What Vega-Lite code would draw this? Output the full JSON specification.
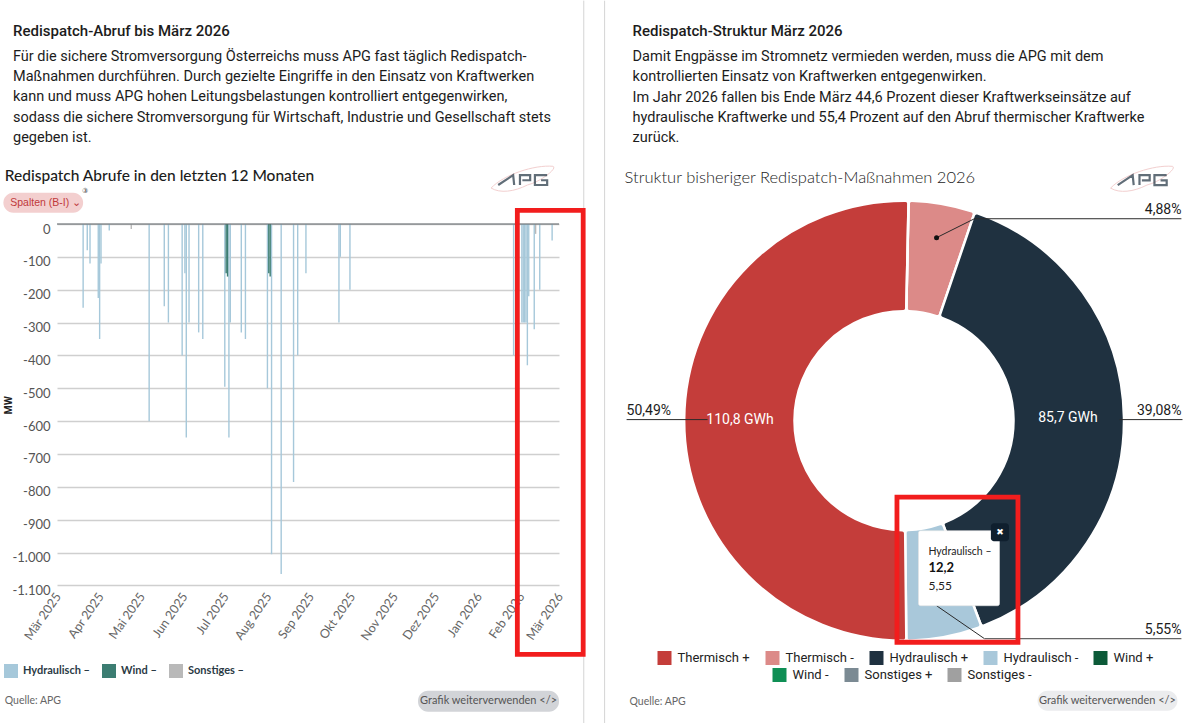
{"$schema":"https://vega.github.io/schema/vega-lite/v6.json","padding":{"left":3,"top":0,"right":0,"bottom":0},"background":"white","spacing":17.5,
"config":{"view":{"stroke":null},"text":{"font":"Roboto","fontSize":14.5,"color":"#1c1c1c","align":"left","baseline":"middle"},"legend":{"symbolType":"square","symbolSize":196,"symbolStrokeWidth":0,"title":null}},
"datasets":{"eins":[{}],
"abrufe":[
{"Tag":"2025-03-20","MW":-255,"Typ":"Hydraulisch –"},{"Tag":"2025-03-23","MW":-80,"Typ":"Hydraulisch –"},{"Tag":"2025-03-25","MW":-120,"Typ":"Hydraulisch –"},{"Tag":"2025-03-31","MW":-225,"Typ":"Hydraulisch –"},{"Tag":"2025-04-01","MW":-350,"Typ":"Hydraulisch –"},{"Tag":"2025-04-02","MW":-120,"Typ":"Hydraulisch –"},{"Tag":"2025-04-08","MW":-20,"Typ":"Hydraulisch –"},{"Tag":"2025-04-24","MW":-15,"Typ":"Sonstiges –"},{"Tag":"2025-05-07","MW":-600,"Typ":"Hydraulisch –"},{"Tag":"2025-05-18","MW":-250,"Typ":"Hydraulisch –"},{"Tag":"2025-05-21","MW":-300,"Typ":"Hydraulisch –"},{"Tag":"2025-05-31","MW":-400,"Typ":"Hydraulisch –"},{"Tag":"2025-06-02","MW":-150,"Typ":"Hydraulisch –"},{"Tag":"2025-06-03","MW":-650,"Typ":"Hydraulisch –"},{"Tag":"2025-06-05","MW":-300,"Typ":"Hydraulisch –"},{"Tag":"2025-06-12","MW":-330,"Typ":"Hydraulisch –"},{"Tag":"2025-06-15","MW":-350,"Typ":"Hydraulisch –"},{"Tag":"2025-07-01","MW":-495,"Typ":"Hydraulisch –"},{"Tag":"2025-07-04","MW":-650,"Typ":"Hydraulisch –"},{"Tag":"2025-07-05","MW":-300,"Typ":"Hydraulisch –"},{"Tag":"2025-07-13","MW":-330,"Typ":"Hydraulisch –"},{"Tag":"2025-07-16","MW":-350,"Typ":"Hydraulisch –"},{"Tag":"2025-08-01","MW":-500,"Typ":"Hydraulisch –"},{"Tag":"2025-08-04","MW":-1005,"Typ":"Hydraulisch –"},{"Tag":"2025-08-11","MW":-1065,"Typ":"Hydraulisch –"},{"Tag":"2025-08-20","MW":-785,"Typ":"Hydraulisch –"},{"Tag":"2025-08-23","MW":-400,"Typ":"Hydraulisch –"},{"Tag":"2025-08-29","MW":-150,"Typ":"Hydraulisch –"},{"Tag":"2025-09-22","MW":-300,"Typ":"Hydraulisch –"},{"Tag":"2025-09-23","MW":-100,"Typ":"Hydraulisch –"},{"Tag":"2025-09-30","MW":-200,"Typ":"Hydraulisch –"},{"Tag":"2026-01-27","MW":-400,"Typ":"Hydraulisch –"},{"Tag":"2026-01-30","MW":-500,"Typ":"Hydraulisch –"},{"Tag":"2026-02-02","MW":-300,"Typ":"Hydraulisch –"},{"Tag":"2026-02-03","MW":-300,"Typ":"Hydraulisch –"},{"Tag":"2026-02-04","MW":-300,"Typ":"Hydraulisch –"},{"Tag":"2026-02-05","MW":-300,"Typ":"Hydraulisch –"},{"Tag":"2026-02-06","MW":-430,"Typ":"Hydraulisch –"},{"Tag":"2026-02-07","MW":-220,"Typ":"Hydraulisch –"},{"Tag":"2026-02-11","MW":-320,"Typ":"Hydraulisch –"},{"Tag":"2026-02-12","MW":-30,"Typ":"Sonstiges –"},{"Tag":"2026-02-15","MW":-200,"Typ":"Hydraulisch –"},{"Tag":"2026-02-24","MW":-50,"Typ":"Hydraulisch –"},
{"Tag":"2025-07-02","MW":-150,"Typ":"Wind –"},{"Tag":"2025-07-03","MW":-160,"Typ":"Wind –"},{"Tag":"2025-08-02","MW":-150,"Typ":"Wind –"},{"Tag":"2025-08-03","MW":-160,"Typ":"Wind –"}],
"struktur":[{"Typ":"Thermisch -","GWh":10.7,"Reihe":1,"Label":""},{"Typ":"Hydraulisch +","GWh":85.7,"Reihe":2,"Label":"85,7 GWh"},{"Typ":"Hydraulisch -","GWh":12.2,"Reihe":3,"Label":""},{"Typ":"Thermisch +","GWh":110.8,"Reihe":4,"Label":"110,8 GWh"},{"Typ":"Wind +","GWh":0,"Reihe":5,"Label":""},{"Typ":"Wind -","GWh":0,"Reihe":6,"Label":""},{"Typ":"Sonstiges +","GWh":0,"Reihe":7,"Label":""},{"Typ":"Sonstiges -","GWh":0,"Reihe":8,"Label":""}]},
"hconcat":[
{"width":502,"height":361.4,"layer":[
{"data":{"name":"abrufe"},"mark":{"type":"bar","width":1.4,"clip":false},"encoding":{
"x":{"field":"Tag","type":"temporal","title":null,"scale":{"domain":[{"year":2025,"month":3,"date":1},{"year":2026,"month":3,"date":1}],"nice":false,"padding":0},"axis":{"grid":false,"domain":false,"ticks":false,"tickCount":{"interval":"month","step":1},"labelAngle":-55,"labelAlign":"right","labelBaseline":"top","labelPadding":5,"labelOffset":-4,"labelFont":"Lato","labelFontSize":12.5,"labelColor":"#666","labelOverlap":false,"labelExpr":"['Jan','Feb','Mär','Apr','Mai','Jun','Jul','Aug','Sep','Okt','Nov','Dez'][month(datum.value)]+' '+year(datum.value)"}},
"y":{"field":"MW","type":"quantitative","stack":null,"title":"MW","scale":{"domain":[-1100,0],"nice":false},"axis":{"values":[0,-100,-200,-300,-400,-500,-600,-700,-800,-900,-1000,-1100],"tickCount":12,"domain":false,"ticks":false,"grid":true,"gridColor":"#cfcfcf","gridWidth":1.3,"labelFont":"Lato","labelFontSize":13,"labelColor":"#555","labelPadding":7,"labelOffset":5,"labelOverlap":false,"labelExpr":"replace(replace(format(datum.value,','),',','.'),'−','-')","labelBound":false,"labelFlush":false,"titleFont":"Roboto","titleFontSize":10.5,"titleFontWeight":"bold","titleColor":"#222","titleX":-44}},
"color":{"field":"Typ","type":"nominal","scale":{"domain":["Hydraulisch –","Wind –","Sonstiges –"],"range":["#a6c8da","#3c7d72","#b9b9b9"]},"legend":{"orient":"none","legendX":-53,"legendY":440,"direction":"horizontal","columns":3,"labelFont":"Lato","labelFontSize":11,"labelFontWeight":"bold","labelColor":"#2b3a45","labelOffset":5,"columnPadding":12}},
"order":{"field":"Typ","sort":"ascending"}}},
{"data":{"name":"eins"},"mark":{"type":"rule","color":"#d4d4d4","strokeWidth":1},"encoding":{"x":{"datum":{"year":2026,"month":3,"date":19},"type":"temporal"},"y":{"datum":680,"type":"quantitative"},"y2":{"datum":-1521}}},
{"data":{"name":"eins"},"mark":{"type":"rule","color":"#5f6468","strokeWidth":1.2},"encoding":{"y":{"datum":0,"type":"quantitative"}}},
{"data":{"name":"eins"},"mark":{"type":"text","fontWeight":500,"fontSize":15,"text":"Redispatch-Abruf bis März 2026"},"encoding":{"x":{"datum":{"year":2025,"month":1,"date":28},"type":"temporal"},"y":{"datum":588.4,"type":"quantitative"}}},
{"data":{"name":"eins"},"mark":{"type":"text","baseline":"top","lineHeight":20.4,"text":["Für die sichere Stromversorgung Österreichs muss APG fast täglich Redispatch-","Maßnahmen durchführen. Durch gezielte Eingriffe in den Einsatz von Kraftwerken","kann und muss APG hohen Leitungsbelastungen kontrolliert entgegenwirken,","sodass die sichere Stromversorgung für Wirtschaft, Industrie und Gesellschaft stets","gegeben ist."]},"encoding":{"x":{"datum":{"year":2025,"month":1,"date":28},"type":"temporal"},"y":{"datum":530.6,"type":"quantitative"}}},
{"data":{"name":"eins"},"mark":{"type":"text","font":"Lato","fontSize":15.5,"fontWeight":500,"text":"Redispatch Abrufe in den letzten 12 Monaten"},"encoding":{"x":{"datum":{"year":2025,"month":1,"date":22},"type":"temporal"},"y":{"datum":147,"type":"quantitative"}}},
{"data":{"name":"eins"},"mark":{"type":"rect","fill":"#f3cfcf","cornerRadius":10},"encoding":{"x":{"datum":{"year":2025,"month":1,"date":21},"type":"temporal"},"x2":{"datum":{"year":2025,"month":3,"date":20}},"y":{"datum":95.3,"type":"quantitative"},"y2":{"datum":34.4}}},
{"data":{"name":"eins"},"mark":{"type":"text","font":"Liberation Sans","fontSize":10.5,"color":"#c0393b","text":"Spalten (B-I) ⌄"},"encoding":{"x":{"datum":{"year":2025,"month":1,"date":26},"type":"temporal"},"y":{"datum":64.8,"type":"quantitative"}}},
{"data":{"name":"eins"},"mark":{"type":"text","fontSize":7,"color":"#333","align":"center","text":"③"},"encoding":{"x":{"datum":{"year":2025,"month":3,"date":21},"type":"temporal"},"y":{"datum":101,"type":"quantitative"}}},
{"data":{"name":"eins"},"mark":{"type":"point","filled":false,"stroke":"#eebcbc","strokeWidth":1,"size":4624,"shape":"M -0.97 0.29 C -0.6 -0.1 0.3 -0.4 0.85 -0.35 C 1 -0.3 0.5 0.1 0.1 0.2 C -0.3 0.4 -0.7 0.45 -0.97 0.29 Z"},"encoding":{"x":{"datum":{"year":2026,"month":2,"date":3,"hours":14},"type":"temporal"},"y":{"datum":139.4,"type":"quantitative"}}},
{"data":{"name":"eins"},"mark":{"type":"point","filled":false,"stroke":"#1f3140","strokeWidth":2.2,"size":4624,"shape":"M -0.76 0.2 L -0.32 -0.09 L -0.29 0.2 M -0.12 0.2 L -0.12 -0.09 L 0.18 -0.09 L 0.18 0.06 L -0.05 0.06 M 0.68 -0.09 L 0.32 -0.09 L 0.32 0.2 L 0.68 0.2 L 0.68 0.06 L 0.5 0.06"},"encoding":{"x":{"datum":{"year":2026,"month":2,"date":3,"hours":14},"type":"temporal"},"y":{"datum":139.4,"type":"quantitative"}}},
{"data":{"name":"eins"},"mark":{"type":"text","font":"Lato","fontSize":10.5,"color":"#666","text":"Quelle: APG"},"encoding":{"x":{"datum":{"year":2025,"month":1,"date":22},"type":"temporal"},"y":{"datum":-1451,"type":"quantitative"}}},
{"data":{"name":"eins"},"mark":{"type":"rect","fill":"#d2d4d8","cornerRadius":10},"encoding":{"x":{"datum":{"year":2025,"month":11,"date":18,"hours":12},"type":"temporal"},"x2":{"datum":{"year":2026,"month":3,"date":1}},"y":{"datum":-1420.7,"type":"quantitative"},"y2":{"datum":-1484.6}}},
{"data":{"name":"eins"},"mark":{"type":"text","font":"Lato","fontSize":11,"color":"#555","align":"center","text":"Grafik weiterverwenden </>"},"encoding":{"x":{"datum":{"year":2026,"month":1,"date":8,"hours":19},"type":"temporal"},"y":{"datum":-1452.7,"type":"quantitative"}}},
{"data":{"name":"eins"},"mark":{"type":"rect","fillOpacity":0,"stroke":"#f21d1d","strokeWidth":4.8},"encoding":{"x":{"datum":{"year":2026,"month":1,"date":29,"hours":17},"type":"temporal"},"x2":{"datum":{"year":2026,"month":3,"date":18,"hours":14}},"y":{"datum":41.4,"type":"quantitative"},"y2":{"datum":-1310}}}
]},
{"width":557,"height":393.4,"resolve":{"scale":{"color":"independent"}},"layer":[
{"data":{"name":"eins"},"mark":{"type":"rule","color":"#d4d4d4","strokeWidth":1},"encoding":{"x":{"datum":-1.361,"type":"quantitative","axis":null,"scale":{"domain":[-1.266,1.266],"nice":false}},"y":{"datum":1.909,"type":"quantitative","axis":null,"scale":{"domain":[-0.8941,0.8941],"nice":false}},"y2":{"datum":-1.377}}},
{"data":{"name":"struktur"},"transform":[{"filter":"datum.Reihe<=5"}],"mark":{"type":"arc","innerRadius":109.5,"outerRadius":220,"stroke":"white","strokeWidth":2.5,"cornerRadius":3},"encoding":{"theta":{"field":"GWh","type":"quantitative","stack":true,"scale":{"domain":[0,219.4],"range":[0.021,6.304]}},"order":{"field":"Reihe"},"color":{"field":"Typ","type":"nominal","scale":{"domain":["Thermisch +","Thermisch -","Hydraulisch +","Hydraulisch -","Wind +"],"range":["#c43d3a","#dc8a88","#1f3140","#a9c8da","#0c5a38"]},"legend":{"orient":"none","legendX":32,"legendY":427,"direction":"horizontal","columns":5,"labelFont":"Roboto","labelFontSize":13,"labelColor":"#222","labelOffset":6,"columnPadding":15}}}},
{"data":{"name":"struktur"},"transform":[{"filter":"datum.Reihe>5"}],"mark":{"type":"arc","innerRadius":109.5,"outerRadius":220},"encoding":{"theta":{"field":"GWh","type":"quantitative","stack":true,"scale":{"domain":[0,219.4],"range":[0.021,6.304]}},"order":{"field":"Reihe"},"color":{"field":"Typ","type":"nominal","scale":{"domain":["Wind -","Sonstiges +","Sonstiges -"],"range":["#0f8f55","#7b8a93","#a0a0a0"]},"legend":{"orient":"none","legendX":147,"legendY":444,"direction":"horizontal","columns":3,"labelFont":"Roboto","labelFontSize":13,"labelColor":"#222","labelOffset":6,"columnPadding":15}}}},
{"data":{"name":"struktur"},"transform":[{"filter":"datum.Reihe<=5"}],"mark":{"type":"text","fontSize":14,"fontWeight":400,"color":"white","align":"center"},"encoding":{"theta":{"field":"GWh","type":"quantitative","stack":true,"scale":{"domain":[0,219.4],"range":[0.021,6.304]}},"order":{"field":"Reihe"},"radius":{"value":164},"text":{"field":"Label"}}},
{"data":{"name":"eins"},"mark":{"type":"text","fontWeight":500,"fontSize":15,"text":"Redispatch-Struktur März 2026"},"encoding":{"x":{"datum":-1.234,"type":"quantitative","axis":null},"y":{"datum":1.773,"type":"quantitative","axis":null}}},
{"data":{"name":"eins"},"mark":{"type":"text","baseline":"top","lineHeight":20.4,"text":["Damit Engpässe im Stromnetz vermieden werden, muss die APG mit dem","kontrollierten Einsatz von Kraftwerken entgegenwirken.","Im Jahr 2026 fallen bis Ende März 44,6 Prozent dieser Kraftwerkseinsätze auf","hydraulische Kraftwerke und 55,4 Prozent auf den Abruf thermischer Kraftwerke","zurück."]},"encoding":{"x":{"datum":-1.234,"type":"quantitative","axis":null},"y":{"datum":1.686,"type":"quantitative","axis":null}}},
{"data":{"name":"eins"},"mark":{"type":"text","font":"Lato","fontSize":16.5,"fontWeight":300,"text":"Struktur bisheriger Redispatch-Maßnahmen 2026"},"encoding":{"x":{"datum":-1.27,"type":"quantitative","axis":null},"y":{"datum":1.105,"type":"quantitative","axis":null}}},
{"data":{"name":"eins"},"mark":{"type":"point","filled":false,"stroke":"#eebcbc","strokeWidth":1,"size":4624,"shape":"M -0.97 0.29 C -0.6 -0.1 0.3 -0.4 0.85 -0.35 C 1 -0.3 0.5 0.1 0.1 0.2 C -0.3 0.4 -0.7 0.45 -0.97 0.29 Z"},"encoding":{"x":{"datum":1.089,"type":"quantitative","axis":null},"y":{"datum":1.102,"type":"quantitative","axis":null}}},
{"data":{"name":"eins"},"mark":{"type":"point","filled":false,"stroke":"#1f3140","strokeWidth":2.2,"size":4624,"shape":"M -0.76 0.2 L -0.32 -0.09 L -0.29 0.2 M -0.12 0.2 L -0.12 -0.09 L 0.18 -0.09 L 0.18 0.06 L -0.05 0.06 M 0.68 -0.09 L 0.32 -0.09 L 0.32 0.2 L 0.68 0.2 L 0.68 0.06 L 0.5 0.06"},"encoding":{"x":{"datum":1.089,"type":"quantitative","axis":null},"y":{"datum":1.102,"type":"quantitative","axis":null}}},
{"data":{"name":"eins"},"mark":{"type":"rule","color":"#2a2a2a","strokeWidth":1},"encoding":{"x":{"datum":0.148,"type":"quantitative","axis":null},"x2":{"datum":0.32},"y":{"datum":0.832,"type":"quantitative","axis":null},"y2":{"datum":0.918}}},
{"data":{"name":"eins"},"mark":{"type":"rule","color":"#2a2a2a","strokeWidth":1},"encoding":{"x":{"datum":0.32,"type":"quantitative","axis":null},"x2":{"datum":1.261},"y":{"datum":0.918,"type":"quantitative","axis":null}}},
{"data":{"name":"eins"},"mark":{"type":"point","filled":true,"color":"#111","size":25,"opacity":1},"encoding":{"x":{"datum":0.148,"type":"quantitative","axis":null},"y":{"datum":0.832,"type":"quantitative","axis":null}}},
{"data":{"name":"eins"},"mark":{"type":"rule","color":"#2a2a2a","strokeWidth":1},"encoding":{"x":{"datum":-1.261,"type":"quantitative","axis":null},"x2":{"datum":-0.893},"y":{"datum":0.005,"type":"quantitative","axis":null}}},
{"data":{"name":"eins"},"mark":{"type":"rule","color":"#2a2a2a","strokeWidth":1},"encoding":{"x":{"datum":0.98,"type":"quantitative","axis":null},"x2":{"datum":1.266},"y":{"datum":0.005,"type":"quantitative","axis":null}}},
{"data":{"name":"eins"},"mark":{"type":"rule","color":"#2a2a2a","strokeWidth":1},"encoding":{"x":{"datum":0.148,"type":"quantitative","axis":null},"x2":{"datum":0.366},"y":{"datum":-0.841,"type":"quantitative","axis":null},"y2":{"datum":-0.991}}},
{"data":{"name":"eins"},"mark":{"type":"rule","color":"#666","strokeWidth":1.2},"encoding":{"x":{"datum":0.366,"type":"quantitative","axis":null},"x2":{"datum":1.261},"y":{"datum":-0.991,"type":"quantitative","axis":null}}},
{"data":{"name":"eins"},"mark":{"type":"text","fontSize":14,"align":"right","baseline":"bottom","text":"4,88%"},"encoding":{"x":{"datum":1.261,"type":"quantitative","axis":null},"y":{"datum":0.925,"type":"quantitative","axis":null}}},
{"data":{"name":"eins"},"mark":{"type":"text","fontSize":14,"align":"right","baseline":"bottom","text":"39,08%"},"encoding":{"x":{"datum":1.261,"type":"quantitative","axis":null},"y":{"datum":0.012,"type":"quantitative","axis":null}}},
{"data":{"name":"eins"},"mark":{"type":"text","fontSize":14,"align":"left","baseline":"bottom","text":"50,49%"},"encoding":{"x":{"datum":-1.261,"type":"quantitative","axis":null},"y":{"datum":0.012,"type":"quantitative","axis":null}}},
{"data":{"name":"eins"},"mark":{"type":"text","fontSize":14,"align":"right","baseline":"bottom","text":"5,55%"},"encoding":{"x":{"datum":1.261,"type":"quantitative","axis":null},"y":{"datum":-0.984,"type":"quantitative","axis":null}}},
{"data":{"name":"eins"},"mark":{"type":"rect","fill":"white","stroke":"#e4e4e4","strokeWidth":0.6,"cornerRadius":2},"encoding":{"x":{"datum":0.066,"type":"quantitative","axis":null},"x2":{"datum":0.434},"y":{"datum":-0.5,"type":"quantitative","axis":null},"y2":{"datum":-0.841}}},
{"data":{"name":"eins"},"mark":{"type":"rect","fill":"#0f1f2e","cornerRadius":3},"encoding":{"x":{"datum":0.395,"type":"quantitative","axis":null},"x2":{"datum":0.477},"y":{"datum":-0.466,"type":"quantitative","axis":null},"y2":{"datum":-0.548}}},
{"data":{"name":"eins"},"mark":{"type":"text","font":"DejaVu Sans","fontSize":9,"color":"white","align":"center","text":"✖"},"encoding":{"x":{"datum":0.436,"type":"quantitative","axis":null},"y":{"datum":-0.507,"type":"quantitative","axis":null}}},
{"data":{"name":"eins"},"mark":{"type":"text","font":"Lato","fontSize":10.5,"color":"#222","text":"Hydraulisch –"},"encoding":{"x":{"datum":0.111,"type":"quantitative","axis":null},"y":{"datum":-0.595,"type":"quantitative","axis":null}}},
{"data":{"name":"eins"},"mark":{"type":"text","font":"Lato","fontSize":13,"fontWeight":"bold","color":"#111","text":"12,2"},"encoding":{"x":{"datum":0.111,"type":"quantitative","axis":null},"y":{"datum":-0.67,"type":"quantitative","axis":null}}},
{"data":{"name":"eins"},"mark":{"type":"text","font":"Lato","fontSize":12,"color":"#222","text":"5,55"},"encoding":{"x":{"datum":0.111,"type":"quantitative","axis":null},"y":{"datum":-0.75,"type":"quantitative","axis":null}}},
{"data":{"name":"eins"},"mark":{"type":"text","font":"Lato","fontSize":10.5,"color":"#666","text":"Quelle: APG"},"encoding":{"x":{"datum":-1.248,"type":"quantitative","axis":null},"y":{"datum":-1.277,"type":"quantitative","axis":null}}},
{"data":{"name":"eins"},"mark":{"type":"rect","fill":"#ebecee","cornerRadius":10},"encoding":{"x":{"datum":0.607,"type":"quantitative","axis":null},"x2":{"datum":1.243},"y":{"datum":-1.227,"type":"quantitative","axis":null},"y2":{"datum":-1.318}}},
{"data":{"name":"eins"},"mark":{"type":"text","font":"Lato","fontSize":11,"color":"#555","align":"center","text":"Grafik weiterverwenden </>"},"encoding":{"x":{"datum":0.925,"type":"quantitative","axis":null},"y":{"datum":-1.273,"type":"quantitative","axis":null}}},
{"data":{"name":"eins"},"mark":{"type":"rect","fillOpacity":0,"stroke":"#f21d1d","strokeWidth":4.8},"encoding":{"x":{"datum":-0.032,"type":"quantitative","axis":null},"x2":{"datum":0.518},"y":{"datum":-0.347,"type":"quantitative","axis":null},"y2":{"datum":-1.007}}}
]}
]}
